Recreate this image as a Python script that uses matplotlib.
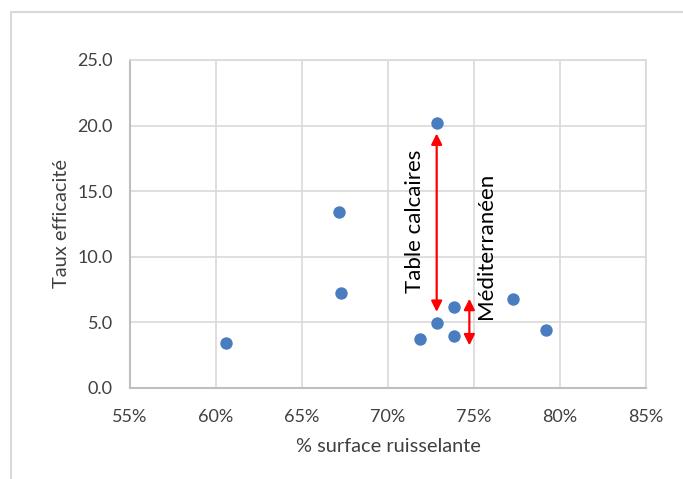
import matplotlib
matplotlib.use("Agg")
import matplotlib.pyplot as plt
import matplotlib.patches as patches

# data
surface = [0.6058, 0.6713, 0.6725, 0.7186, 0.7283, 0.7283, 0.7384, 0.7384, 0.7729, 0.7919]
taux = [3.41, 13.44, 7.26, 3.71, 4.98, 20.22, 3.96, 6.20, 6.76, 4.42]

x_ticks = [0.55, 0.60, 0.65, 0.70, 0.75, 0.80, 0.85]
y_ticks = [0.0, 5.0, 10.0, 15.0, 20.0, 25.0]

# annotated ranges: (x, y_start, y_end)
table_arrow = (0.7283, 19.4, 5.8)
medit_arrow = (0.7473, 6.8, 3.25)

plt.rcParams['font.family'] = ['Lato', 'DejaVu Sans']

fig = plt.figure(figsize=(6.83, 4.79), dpi=100)
fig.patches.append(patches.Rectangle((11 / 683, -0.01), 1.0, 1 - 12 / 479 + 0.01,
                                     transform=fig.transFigure, fill=False,
                                     edgecolor='#D9D9D9', linewidth=1.5))
ax = fig.add_axes([130 / 683, 91 / 479, 516 / 683, 328 / 479])

ax.scatter(surface, taux, s=80, color='#4A7DC0', zorder=3, linewidths=0)

ax.set_xlim(0.55, 0.85)
ax.set_ylim(0, 25)
ax.set_xticks(x_ticks)
ax.set_yticks(y_ticks)
ax.set_xticklabels(["%d%%" % round(v * 100) for v in x_ticks])
ax.set_yticklabels(["%.1f" % v for v in y_ticks])
ax.tick_params(length=0, labelsize=13, colors='#404040')
ax.tick_params(axis='y', pad=12.5)
ax.tick_params(axis='x', pad=15)
ax.grid(True, color='#D9D9D9', linewidth=1.2)
ax.set_axisbelow(True)
for side in ['top', 'right']:
    ax.spines[side].set_color('#D9D9D9')
    ax.spines[side].set_linewidth(1.2)
for side in ['left', 'bottom']:
    ax.spines[side].set_color('#BFBFBF')
    ax.spines[side].set_linewidth(1.5)

ax.set_xlabel("% surface ruisselante", fontsize=14.4, color='#404040')
ax.set_ylabel("Taux efficacité", fontsize=14.4, color='#404040')
ax.xaxis.set_label_coords(0.5, -0.152)
ax.yaxis.set_label_coords(-0.116, 0.5)

# arrows
for x, y0, y1 in [table_arrow, medit_arrow]:
    ax.annotate("", xy=(x, y1), xytext=(x, y0),
                arrowprops=dict(arrowstyle='<|-|>', color='red', lw=1.6,
                                mutation_scale=16, shrinkA=0, shrinkB=0))

ax.text(0.7157, 12.7, "Table calcaires", rotation=90, ha='center', va='center',
        fontsize=16, color='#000000')
ax.text(0.757, 10.8, "Méditerranéen", rotation=90, ha='center', va='center',
        fontsize=16, color='#000000')

fig.savefig("out.png", dpi=100)
